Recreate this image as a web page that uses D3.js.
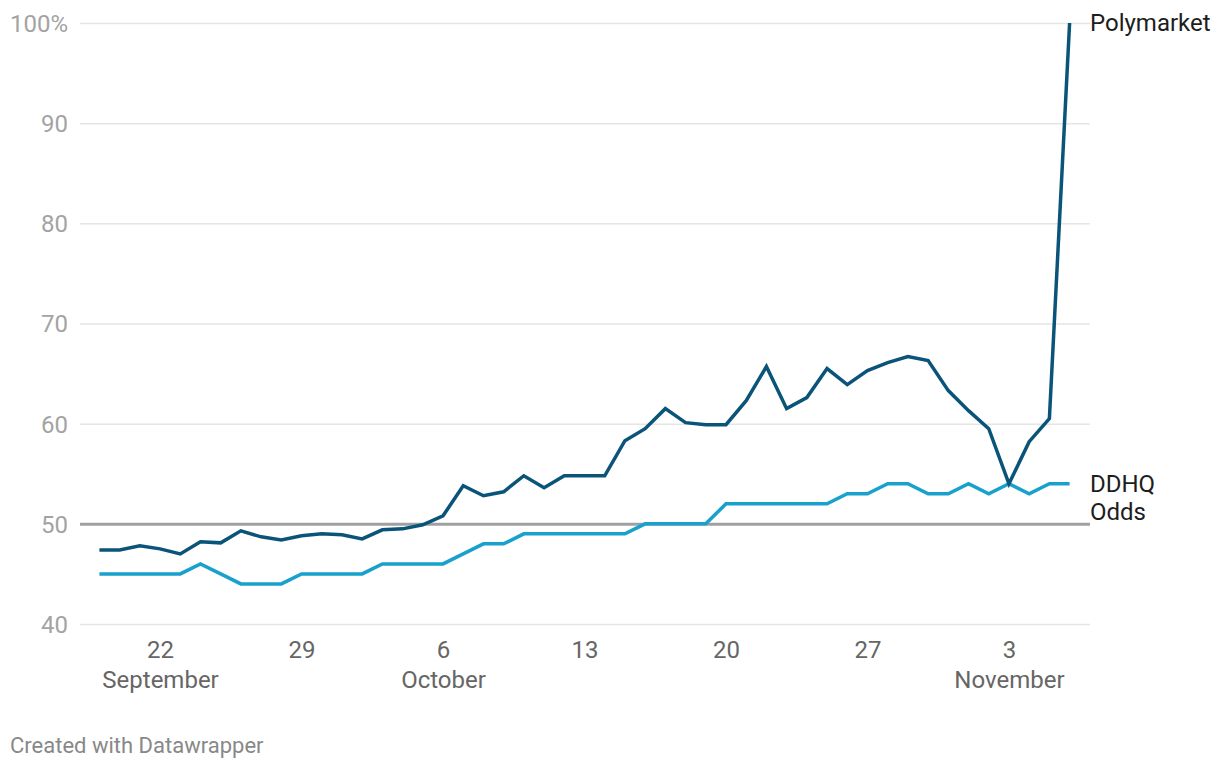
<!DOCTYPE html>
<html><head><meta charset="utf-8">
<script src="https://cdn.jsdelivr.net/npm/d3@7"></script>
<style>
body{margin:0;background:#fff;font-family:Roboto,"Noto Sans",sans-serif;}
svg text{font-family:Roboto,"Noto Sans",sans-serif;}
</style></head><body>
<svg id="c" width="1220" height="770"></svg>
<script>
const startDate = "2024-09-19";
const polymarket = [47.4,47.4,47.8,47.5,47.0,48.2,48.1,49.3,48.7,48.4,48.8,49.0,48.9,48.5,49.4,49.5,49.9,50.8,53.8,52.8,53.2,54.8,53.6,54.8,54.8,54.8,58.3,59.5,61.5,60.1,59.9,59.9,62.3,65.7,61.5,62.6,65.5,63.9,65.3,66.1,66.7,66.3,63.3,61.3,59.5,54.0,58.2,60.5,100];
const ddhq = [45,45,45,45,45,46,45,44,44,44,45,45,45,45,46,46,46,46,47,48,48,49,49,49,49,49,49,50,50,50,50,52,52,52,52,52,52,53,53,54,54,53,53,54,53,54,53,54,54];
const yTicks = [40,50,60,70,80,90,100];
const xTickDates = ["2024-09-22","2024-09-29","2024-10-06","2024-10-13","2024-10-20","2024-10-27","2024-11-03"];
const monthLabels = {"2024-09-22":"September","2024-10-06":"October","2024-11-03":"November"};

const parse = d3.utcParse("%Y-%m-%d");
const fmt = d3.utcFormat("%Y-%m-%d");
const t0 = parse(startDate);
const dates = polymarket.map((_,i)=>d3.utcDay.offset(t0,i));

const svg = d3.select("#c");
const x = d3.scaleUtc().domain([t0, dates[dates.length-1]]).range([99.4, 1069.6]);
const y = d3.scaleLinear().domain([40,100]).range([624,23]);

// grid + y labels
const ya = svg.append("g").attr("transform","translate(80,0)")
  .call(d3.axisRight(y).tickValues(yTicks).tickSize(1010).tickFormat(d=>d===100?"100%":d));
ya.select(".domain").remove();
ya.selectAll(".tick line").attr("stroke","#e5e5e5").attr("stroke-width",1.5);
ya.selectAll(".tick text").attr("x",-12).attr("text-anchor","end").attr("dy","0.35em")
  .attr("fill","#a3a3a3").attr("font-size",24).attr("font-family","Roboto");
ya.selectAll(".tick").filter(d=>d===50).select("line").attr("stroke","#a0a0a0").attr("stroke-width",3);

// x axis
const xa = svg.append("g").attr("transform","translate(0,630)")
  .call(d3.axisBottom(x).tickValues(xTickDates.map(parse)).tickSize(0).tickPadding(0).tickFormat(d=>d.getUTCDate()));
xa.select(".domain").remove();
xa.selectAll(".tick text").attr("fill","#666").attr("font-size",24).attr("font-family","Roboto").attr("dy","0").attr("y",28);
xa.selectAll(".tick").each(function(d){
  const m = monthLabels[fmt(d)];
  if(m) d3.select(this).append("text").attr("y",58).attr("text-anchor","middle").attr("fill","#666")
    .attr("font-size",24).attr("font-family","Roboto").text(m);
});

const line = d3.line().x((d,i)=>x(dates[i])).y(d=>y(d));
svg.append("path").datum(ddhq).attr("d",line).attr("fill","none").attr("stroke","#18a1cd").attr("stroke-width",3.5).attr("stroke-linejoin","miter");
svg.append("path").datum(polymarket).attr("d",line).attr("fill","none").attr("stroke","#0b5479").attr("stroke-width",3.5).attr("stroke-linejoin","miter");

svg.append("text").attr("x",1090).attr("y",y(100)).attr("dy","0.35em").attr("fill","#1d1d1d").attr("font-size",24).text("Polymarket");
const dl = svg.append("text").attr("x",1090).attr("y",y(ddhq[ddhq.length-1])).attr("dy","0.35em").attr("fill","#1d1d1d").attr("font-size",24);
dl.append("tspan").attr("x",1090).text("DDHQ");
dl.append("tspan").attr("x",1090).attr("dy",28).text("Odds");

svg.append("text").attr("x",10).attr("y",753).attr("fill","#888").attr("font-size",22).text("Created with Datawrapper");
</script></body></html>
